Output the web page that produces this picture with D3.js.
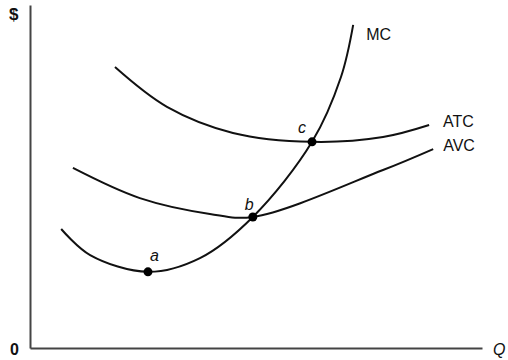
<!DOCTYPE html>
<html>
<head>
<meta charset="utf-8">
<script src="https://cdn.jsdelivr.net/npm/d3@7"></script>
<style>
  body { margin: 0; background: #fff; }
  .axis path { stroke: #444; stroke-width: 2px; }
  .curve { fill: none; stroke: #111; stroke-width: 2px; }
  text { font-family: "Liberation Sans", Arial, sans-serif; fill: #111; }
</style>
</head>
<body>
<div id="chart"></div>
<script>
// cost curves, in chart units (Q 0..100, $ 0..100)
var mcPoints = [[6.9, 34.7], [13.3, 27.1], [26.1, 22.2], [37.6, 26.2], [49.3, 38.2], [62.4, 60.1], [68.8, 79.0], [71.5, 94.2]];
var atcPoints = [[18.8, 81.9], [30.3, 70.3], [44.9, 62.7], [62.4, 60.1], [78.1, 61.5], [88.3, 65.0]];
var avcPoints = [[9.5, 52.5], [24.3, 43.7], [39.8, 39.1], [49.3, 38.2], [78.1, 51.9], [89.2, 58.0]];
var curveNames = ["MC", "ATC", "AVC"];
var pointNames = ["a", "b", "c"];
var keyPoints = [[26.1, 22.2], [49.3, 38.2], [62.4, 60.1]];

var width = 508, height = 360;
var margin = {top: 5, right: 26, bottom: 12, left: 30};

var svg = d3.select("#chart").append("svg")
    .attr("width", width)
    .attr("height", height);

var x = d3.scaleLinear().domain([0, 100]).range([margin.left, width - margin.right]);
var y = d3.scaleLinear().domain([0, 100]).range([height - margin.bottom, margin.top]);

svg.append("g")
    .attr("class", "axis")
    .attr("transform", "translate(" + margin.left + ",0)")
    .call(d3.axisLeft(y).ticks(0).tickSizeOuter(0));
svg.append("g")
    .attr("class", "axis")
    .attr("transform", "translate(0," + (height - margin.bottom) + ")")
    .call(d3.axisBottom(x).ticks(0).tickSizeOuter(0));

var line = d3.line()
    .x(function(d) { return x(d[0]); })
    .y(function(d) { return y(d[1]); })
    .curve(d3.curveCatmullRom.alpha(0.5));

[mcPoints, atcPoints, avcPoints].forEach(function(pts) {
    svg.append("path").datum(pts).attr("class", "curve").attr("d", line);
});

// curve labels next to their ends
var ends = [mcPoints[mcPoints.length - 1], atcPoints[atcPoints.length - 1], avcPoints[avcPoints.length - 1]];
var labelOffsets = [[13, 15], [14, 2], [10, 2]];
curveNames.forEach(function(name, i) {
    svg.append("text")
        .attr("x", x(ends[i][0]) + labelOffsets[i][0])
        .attr("y", y(ends[i][1]) + labelOffsets[i][1])
        .style("font-size", "16px")
        .text(name);
});

svg.selectAll(".dot").data(keyPoints).enter().append("circle")
    .attr("class", "dot")
    .attr("cx", function(d) { return x(d[0]); })
    .attr("cy", function(d) { return y(d[1]); })
    .attr("r", 4.5)
    .style("fill", "#000");

var pointOffsets = [[2, -11], [-8, -7], [-14, -9]];
svg.selectAll(".plabel").data(keyPoints).enter().append("text")
    .attr("class", "plabel")
    .attr("x", function(d, i) { return x(d[0]) + pointOffsets[i][0]; })
    .attr("y", function(d, i) { return y(d[1]) + pointOffsets[i][1]; })
    .style("font-size", "16px")
    .style("font-style", "italic")
    .text(function(d, i) { return pointNames[i]; });

svg.append("text").attr("x", 9).attr("y", 20)
    .style("font-size", "17px").style("font-weight", "bold").text("$");
svg.append("text").attr("x", 10).attr("y", 355)
    .style("font-size", "16px").style("font-weight", "bold").text("0");
svg.append("text").attr("x", 493).attr("y", 355)
    .style("font-size", "16px").style("font-style", "italic").text("Q");
</script>
</body>
</html>
